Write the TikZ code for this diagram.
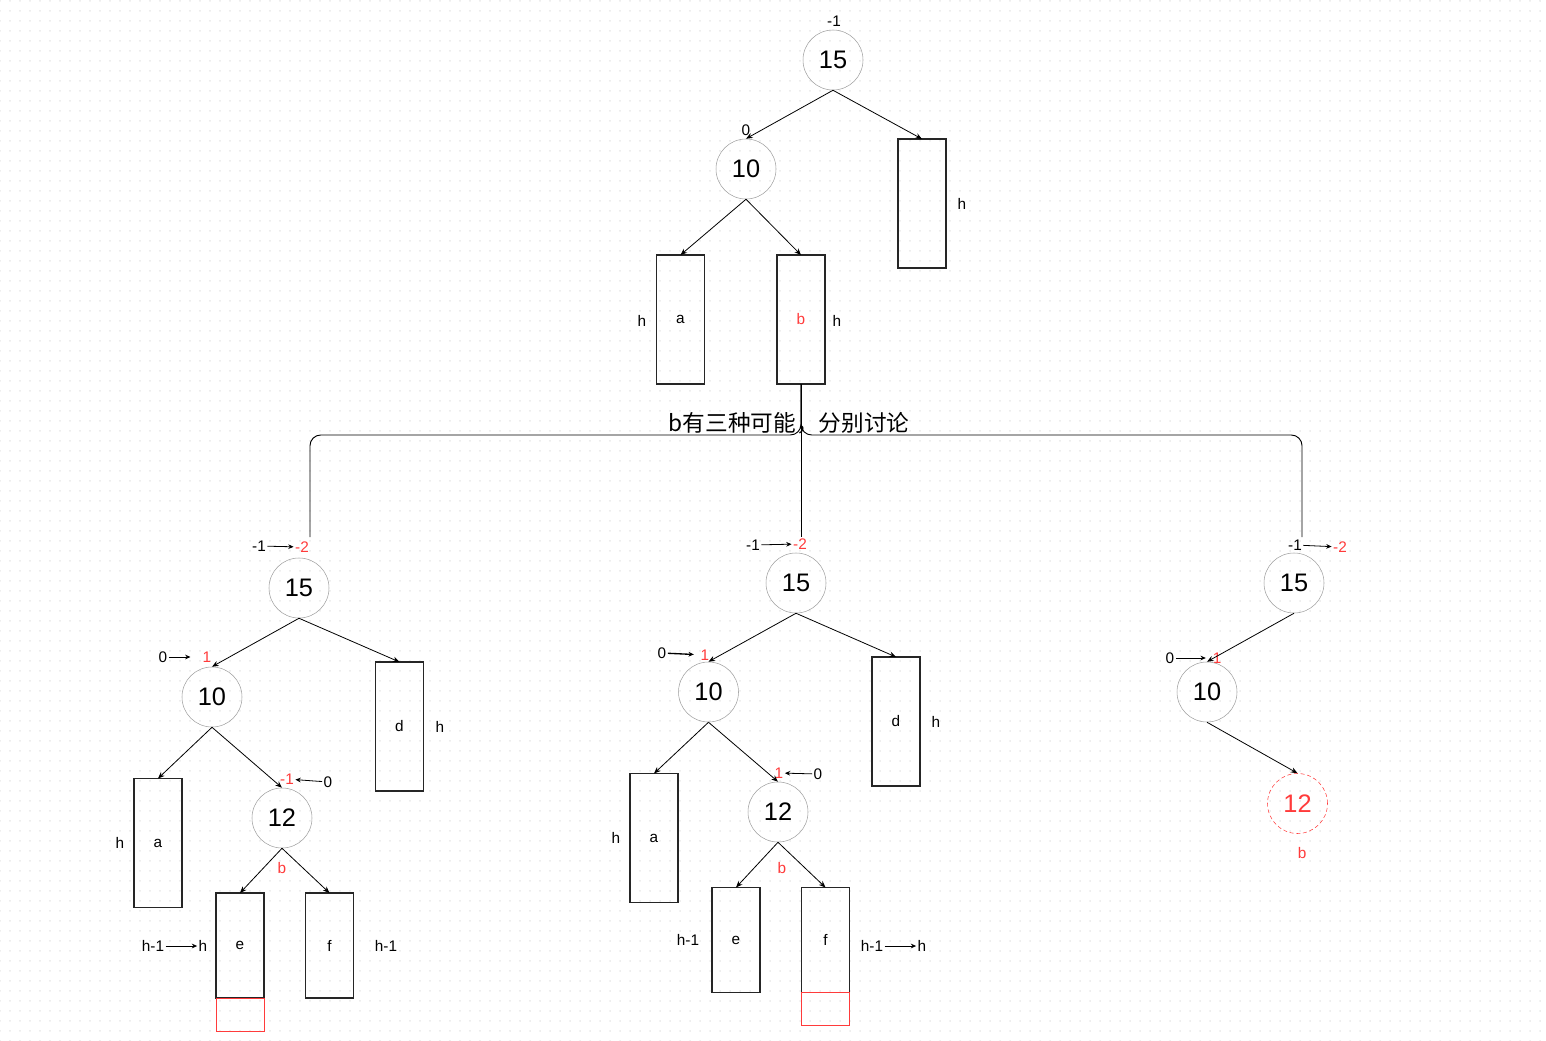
\documentclass[tikz,border=0pt]{standalone}
\usepackage{xcolor}
\usepackage{fontspec}
\setmainfont{Liberation Sans}
\newfontfamily\cjk{Noto Sans CJK SC}
\usepackage{tikz}
\usetikzlibrary{arrows.meta, positioning, patterns}

\definecolor{hred}{HTML}{FF3B3B}

\pgfdeclarepatternformonly{griddots}{\pgfqpoint{-1pt}{-1pt}}{\pgfqpoint{1pt}{1pt}}{\pgfqpoint{7.5pt}{7.5pt}}{%
  \pgfpathcircle{\pgfqpoint{0pt}{0pt}}{0.75pt}\pgfusepath{fill}}

\begin{document}
\begin{tikzpicture}[
    x=0.75pt, y=-0.75pt,
    num/.style={circle, draw=gray!75, minimum size=45pt, inner sep=0pt, font=\fontsize{19}{22}\selectfont},
    box/.style={draw=black!85, line width=0.9pt, minimum width=36pt, minimum height=96.75pt, inner sep=0pt, outer sep=0pt, font=\fontsize{11.5}{13}\selectfont},
    shortbox/.style={box, minimum height=78.75pt},
    extra/.style={draw=hred, line width=0.7pt, minimum width=36pt, minimum height=24.75pt, inner sep=0pt, outer sep=0pt},
    lbl/.style={font=\fontsize{11.5}{13}\selectfont, inner sep=1pt},
    hot/.style={text=hred},
    edge/.style={-{Stealth[length=5pt, width=4pt]}, line width=0.6pt},
    tip/.style={-{Stealth[length=4pt, width=3.5pt]}, line width=0.6pt},
]
\useasboundingbox (0,0) rectangle (1546,1041);
\fill[pattern=griddots, pattern color=black!9] (0,0) rectangle (1546,1041);

% TOP tree
\node[lbl] (t15_bf) at (834,21) {-1};
\node[num] (t15) at (833,60) {15};
\node[num] (t10) at (746,169) {10};
\node[lbl] (t10_bf) at (746,130) {0};
\node[box] (tright) at (922,203.5) {};
\node[lbl] (tright_h) at (962,204) {h};
\node[box] (ta) at (680.5,319.5) {a};
\node[lbl] (ta_h) at (642,321) {h};
\node[box] (tb) at (801,319.5) {\textcolor{hred}{b}};
\node[lbl] (tb_h) at (837,321) {h};

\draw[edge] (t15.south) -- (t10.north);
\draw[edge] (t15.south) -- (tright.north);
\draw[edge] (t10.south) -- (ta.north);
\draw[edge] (t10.south) -- (tb.north);

% Split into three cases
\node[font=\cjk\fontsize{17}{20}\selectfont, inner sep=1pt] (note) at (789,423) {b有三种可能，分别讨论};
\coordinate (split) at (801,435);
\coordinate (goL) at (310,537);
\coordinate (goM) at (801,537);
\coordinate (goR) at (1302,537);
\draw[line width=0.7pt, rounded corners=8pt] (tb.south) -- (split) -| (goL);
\draw[line width=0.7pt, rounded corners=8pt] (tb.south) -- (split) -| (goR);
\draw[line width=0.7pt] (tb.south) -- (goM);

% LEFT case
\node[lbl] (l15_old) at (259,546) {-1};
\node[lbl, hot] (l15_new) at (302,547) {-2};
\draw[tip] (l15_old) -- (l15_new);
\node[num] (l15) at (299,588) {15};
\node[lbl] (l10_old) at (163,657) {0};
\node[lbl, hot] (l10_new) at (207,657) {1};
\draw[tip, shorten >=8pt] (l10_old) -- (l10_new);
\node[num] (l10) at (212,697) {10};
\node[box] (ld) at (399.5,726.5) {d};
\node[lbl] (ld_h) at (440,727) {h};
\node[box] (la) at (158,843) {a};
\node[lbl] (la_h) at (120,843) {h};
\node[num] (l12) at (282,818) {12};
\node[lbl, hot] (l12_new) at (287,779) {-1};
\node[lbl] (l12_old) at (328,782) {0};
\draw[tip] (l12_old) -- (l12_new);
\node[lbl, hot] (l12_b) at (282,868) {b};
\node[shortbox] (le) at (240,945.5) {e};
\node[extra, below=0pt of le] (le_grow) {};
\node[lbl] (le_old) at (153,946) {h-1};
\node[lbl] (le_new) at (203,946) {h};
\draw[tip] (le_old) -- (le_new);
\node[shortbox] (lf) at (329.5,945.5) {f};
\node[lbl] (lf_h) at (386,946) {h-1};

\draw[edge] (l15.south) -- (l10.north);
\draw[edge] (l15.south) -- (ld.north);
\draw[edge] (l10.south) -- (la.north);
\draw[edge] (l10.south) -- (l12.north);
\draw[edge] (l12.south) -- (le.north);
\draw[edge] (l12.south) -- (lf.north);

% MIDDLE case
\node[lbl] (m15_old) at (753,545) {-1};
\node[lbl, hot] (m15_new) at (800,544) {-2};
\draw[tip] (m15_old) -- (m15_new);
\node[num] (m15) at (796,583) {15};
\node[lbl] (m10_old) at (662,653) {0};
\node[lbl, hot] (m10_new) at (705,655) {1};
\draw[tip, line width=1pt, shorten >=4pt] (m10_old) -- (m10_new);
\node[num] (m10) at (708.5,692) {10};
\node[box] (md) at (896,721.5) {d};
\node[lbl] (md_h) at (936,722) {h};
\node[box] (ma) at (654,838) {a};
\node[lbl] (ma_h) at (616,838) {h};
\node[num] (m12) at (778,812) {12};
\node[lbl, hot] (m12_new) at (779,773) {1};
\node[lbl] (m12_old) at (818,774) {0};
\draw[tip] (m12_old) -- (m12_new);
\node[lbl, hot] (m12_b) at (782,868) {b};
\node[shortbox] (me) at (736,940) {e};
\node[lbl] (me_h) at (688,940) {h-1};
\node[shortbox] (mf) at (825.5,940) {f};
\node[extra, below=0pt of mf] (mf_grow) {};
\node[lbl] (mf_old) at (872,946) {h-1};
\node[lbl] (mf_new) at (922,946) {h};
\draw[tip] (mf_old) -- (mf_new);

\draw[edge] (m15.south) -- (m10.north);
\draw[edge] (m15.south) -- (md.north);
\draw[edge] (m10.south) -- (ma.north);
\draw[edge] (m10.south) -- (m12.north);
\draw[edge] (m12.south) -- (me.north);
\draw[edge] (m12.south) -- (mf.north);

% RIGHT case
\node[lbl] (r15_old) at (1295,545) {-1};
\node[lbl, hot] (r15_new) at (1340,547) {-2};
\draw[tip] (r15_old) -- (r15_new);
\node[num] (r15) at (1294,583) {15};
\node[lbl] (r10_old) at (1170,658) {0};
\node[lbl, hot] (r10_new) at (1217,658) {1};
\draw[tip, shorten >=4pt] (r10_old) -- (r10_new);
\node[num] (r10) at (1207,692) {10};
\node[num, draw=hred, densely dashed, text=hred] (r12) at (1297.5,803.5) {12};
\node[lbl, hot] (r12_b) at (1302,853) {b};

\draw[edge] (r15.south) -- (r10.north);
\draw[edge] (r10.south) -- (r12.north);

\end{tikzpicture}
\end{document}
